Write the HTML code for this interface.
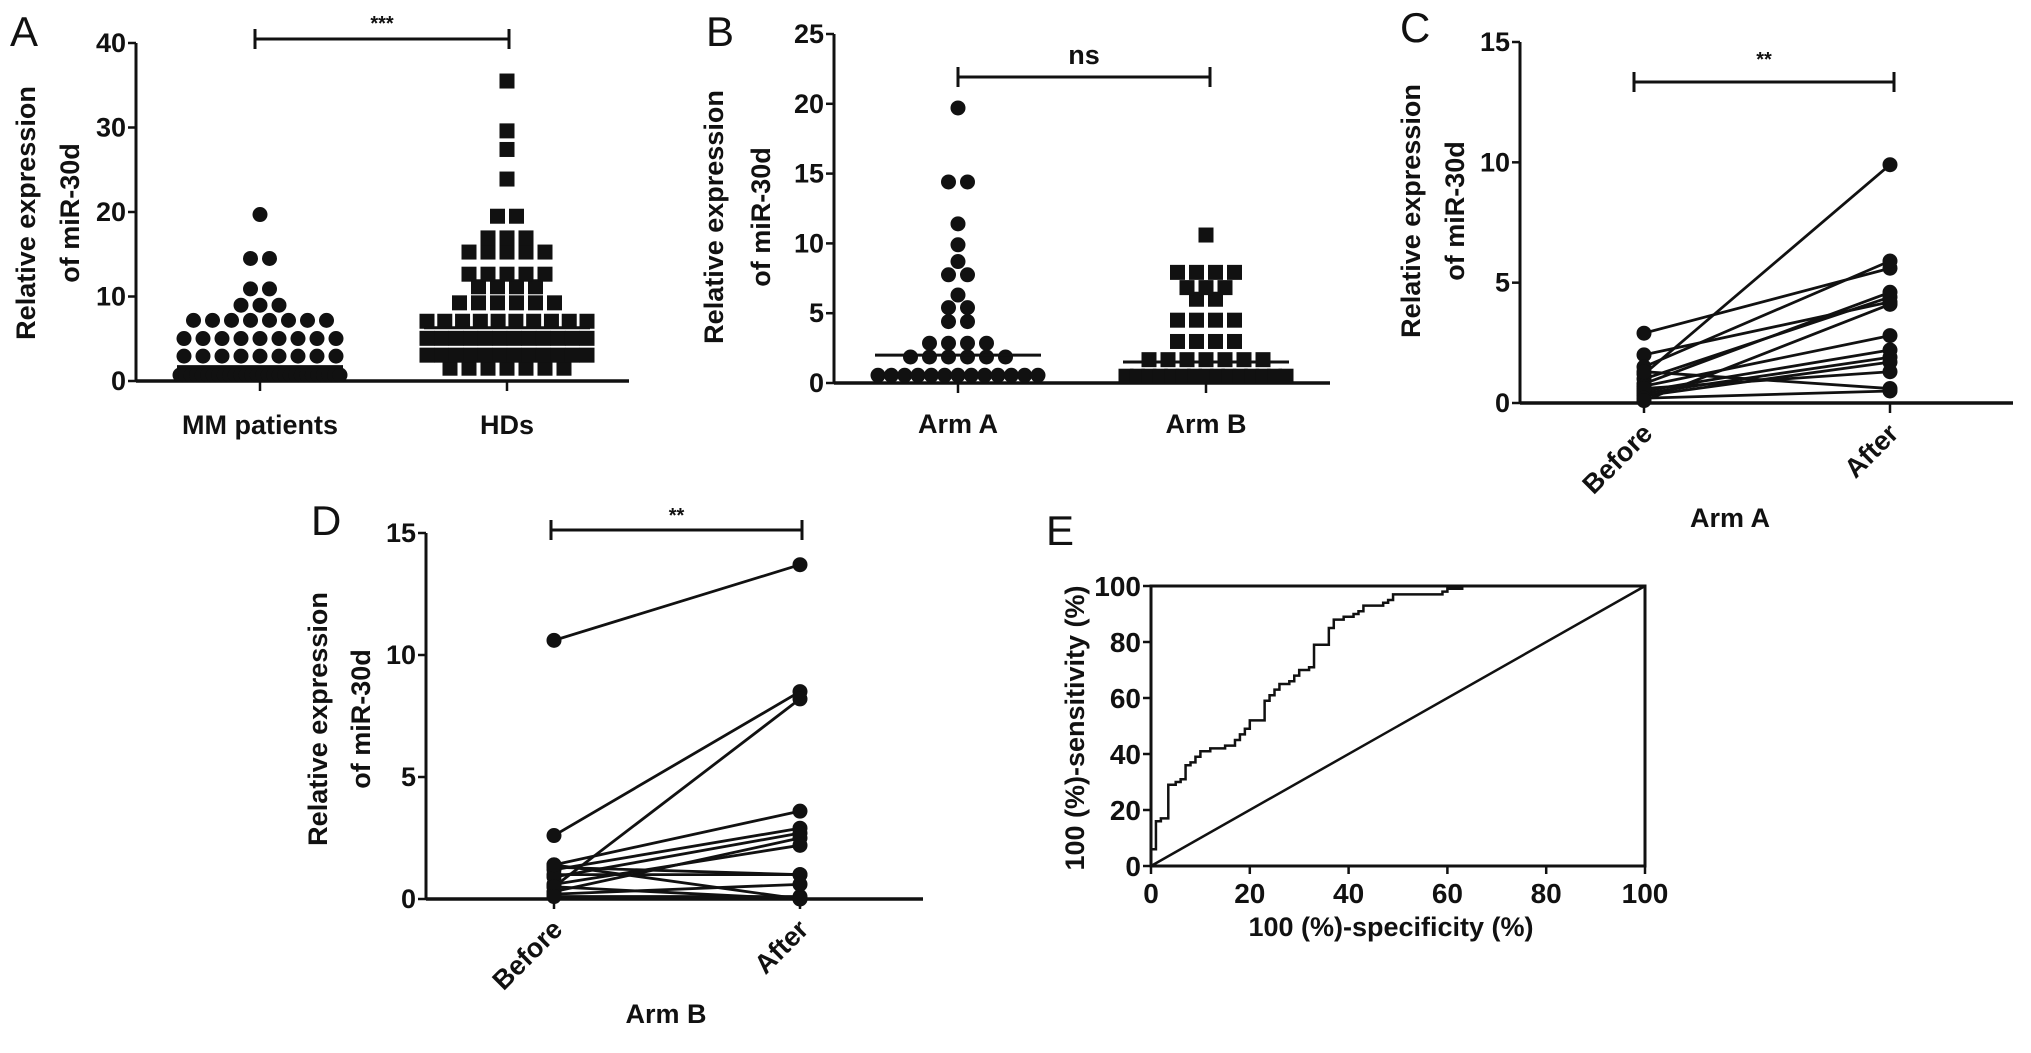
<!DOCTYPE html>
<html><head><meta charset="utf-8"><style>
html,body{margin:0;padding:0;background:#fff;}
svg{display:block;font-family:"Liberation Sans",Arial,sans-serif;}
</style></head><body>
<svg id="fig" width="2031" height="1053" viewBox="0 0 2031 1053" xmlns="http://www.w3.org/2000/svg"></svg>
<script>
// ---- data ----
const catsA = ["MM patients","HDs"];
const mmValues = [19.7,14.7,14.3,11.3,10.5,9.9,8.6,8.4,7.8,7.7,7.6,7.5,7.0,6.9,6.6,6.3,6.0,6.0,5.6,5.2,4.8,4.6,4.6,4.2,4.2,3.8,3.4,3.2,3.0,3.0,2.8,2.6,2.5,2.2,2.0,1.9,1.8,1.6,1.4,1.3,1.2,1.1,1.0,1.0,0.9,0.8,0.7,0.7,0.6,0.5,0.5,0.4,0.4,0.3,0.3,0.2,0.2,0.1,0.1,0.1,0.0,0.0,0.0,0.0];
const hdValues = [35.5,29.6,27.4,23.9,20.0,19.0,17.5,17.0,16.3,16.0,15.7,15.5,14.8,14.3,13.4,12.8,12.5,12.3,12.2,11.8,11.5,11.0,10.3,10.0,9.7,9.5,9.0,8.8,8.5,8.0,7.8,7.5,7.2,7.0,6.8,6.5,6.3,6.0,5.8,5.5,5.3,5.0,4.8,4.5,4.3,4.0,3.8,3.5,3.3,3.0,2.8,2.5,2.3,2.0,1.8,1.5,1.2,0.8,3.2,4.6,5.6,6.2,2.6,3.6,1.9,4.1,5.1,7.4,2.1,1.4];
const mediansA = [1.7,6.3];
const ticksA = [0,10,20,30,40];
const catsB = ["Arm A","Arm B"];
const armAValues = [19.7,14.6,14.2,11.4,9.9,8.7,8.0,7.5,6.3,5.6,5.2,4.5,4.3,3.1,2.8,2.8,2.7,2.2,2.1,2.0,1.9,1.7,1.3,1.2,1.0,1.0,0.9,0.8,0.5,0.4,0.4,0.3,0.2,0.2,0.2,0.1];
const armBValues = [10.6,8.5,8.0,7.7,7.5,7.1,6.9,6.5,6.0,6.0,4.7,4.7,4.7,3.9,3.4,3.2,2.7,2.6,2.3,1.9,1.7,1.6,1.5,1.4,1.3,1.2,1.1,1.0,0.9,0.7,0.6,0.5,0.4,0.3,0.2,0.2,0.1,0.1,0.0,0.0];
const mediansB = [2.0,1.5];
const ticksB = [0,5,10,15,20,25];
const catsPaired = ["Before","After"];
const cBefore = [2.9,2.0,1.5,1.2,1.0,0.8,0.7,0.5,0.4,0.3,1.3,0.6,0.2,0.1];
const cAfter  = [5.6,4.2,5.9,9.9,4.4,4.6,2.8,2.2,1.9,1.7,0.6,1.3,0.5,4.1];
const dBefore = [10.6,2.6,0.5,1.4,1.2,0.9,0.3,0.6,1.3,1.0,0.2,0.5,0.1,1.4];
const dAfter  = [13.7,8.5,8.2,3.6,2.9,2.7,2.5,2.2,1.0,1.0,0.6,0.0,0.1,0.0];
const ticksPaired = [0,5,10,15];
const rocFpr = [0,0,1,1,2,2,3.5,3.5,5,6,7,7,8,9,10,12,15,17,18,19,20,22,23,23,24,25,26,28,29,30,32,33,33,35,36,36,37,39,41,42,43,45,47,48,49,52,55,59,59,60,62,63,100];
const rocTpr = [0,6,6,16,16,17,17,29,30,31,33,36,37,39,41,42,43,45,47,49,52,52,52,59,61,63,65,66,68,70,71,72,79,79,83,85,88,89,90,91,93,93,94,95,97,97,97,97,98,99,99,100,100];
const ticksE = [0,20,40,60,80,100];

const NS="http://www.w3.org/2000/svg";
const svg=document.getElementById('fig');
function mk(tag,attrs,parent){const e=document.createElementNS(NS,tag);for(const k in attrs)e.setAttribute(k,attrs[k]);(parent||svg).appendChild(e);return e;}
function scaleY(p,v){return p.y0-(v/p.ymax)*(p.y0-p.yTop);}

function axes(p,ticks,name){
  const g=mk('g',{});
  
  
  const yl=mk('line',{x1:p.ax,y1:p.yTop,x2:p.ax,y2:p.y0,stroke:'#111','stroke-width':3},g);
  
  
  const xl=mk('line',{x1:p.ax,y1:p.y0,x2:p.xEnd,y2:p.y0,stroke:'#111','stroke-width':3.5},g);
  
  
  ticks.forEach(t=>{
    const y=scaleY(p,t);
    mk('line',{x1:p.ax-8,y1:y,x2:p.ax,y2:y,stroke:'#111','stroke-width':2.5},g);
    const tx=mk('text',{x:p.ax-10,y:y+9,'text-anchor':'end','font-size':27,'font-weight':'bold',fill:'#111'},g);
    tx.textContent=t;
    
    
  });
  p.cats.forEach(cx=>{mk('line',{x1:cx,y1:p.y0,x2:cx,y2:p.y0+10,stroke:'#111','stroke-width':2.5},g);});
}
function ytitle(cx1,cx2,cy,name){
  const l1=mk('text',{x:0,y:0,transform:`translate(${cx1+10},${cy}) rotate(-90)`,'text-anchor':'middle','font-size':27,'font-weight':'bold',fill:'#111'});
  l1.textContent='Relative expression';
  
  
  const l2=mk('text',{x:0,y:0,transform:`translate(${cx2+10},${cy}) rotate(-90)`,'text-anchor':'middle','font-size':27,'font-weight':'bold',fill:'#111'});
  l2.textContent='of miR-30d';
  
  
}
function letter(t,x,y){
  const e=mk('text',{x:x,y:y,'font-size':42,fill:'#111'});
  e.textContent=t;
  
  
}
function bracket(x1,x2,y,label,ly,name,fs){
  const g=mk('g',{});
  
  
  mk('line',{x1:x1,y1:y,x2:x2,y2:y,stroke:'#111','stroke-width':3},g);
  mk('line',{x1:x1,y1:y-10,x2:x1,y2:y+10,stroke:'#111','stroke-width':3},g);
  mk('line',{x1:x2,y1:y-10,x2:x2,y2:y+10,stroke:'#111','stroke-width':3},g);
  const t=mk('text',{x:(x1+x2)/2,y:ly,'text-anchor':'middle','font-size':fs,'font-weight':'bold',fill:'#111'},g);
  t.textContent=label;
}
function catLabel(t,x,y,name){
  const e=mk('text',{x:x,y:y,'text-anchor':'middle','font-size':27,'font-weight':'bold',fill:'#111'});
  e.textContent=t;
  
  
}
function swarm(p,vals,cx,shape,name){
  const size=19, rowH=17, maxHalf=80;
  const bins={};
  vals.forEach(v=>{const b=Math.floor((p.y0-scaleY(p,v))/rowH);(bins[b]=bins[b]||[]).push(v);});
  Object.keys(bins).forEach(b=>{
    const arr=bins[b];
    const n=arr.length;
    const sp=n>1?Math.min(size,2*maxHalf/(n-1)):size;
    const avg=arr.reduce((s,v)=>s+v,0)/n;
    const yRow=Math.min(scaleY(p,avg),p.y0-5);
    arr.forEach((v,i)=>{
      const x=cx+(i-(n-1)/2)*sp;
      let m;
      if(shape==='circle') m=mk('circle',{cx:x,cy:yRow,r:7.5,fill:'#111'});
      else m=mk('rect',{x:x-7.5,y:yRow-7.5,width:15,height:15,fill:'#111'});
      
      
    });
  });
}
function median(p,v,cx,half,name){
  const y=scaleY(p,v);
  const m=mk('line',{x1:cx-half,y1:y,x2:cx+half,y2:y,stroke:'#111','stroke-width':3});
  
  
}

// ---- Panel A ----
const pA={ax:136,yTop:43,y0:381,xEnd:629,ymax:40,cats:[260,507]};
letter('A',10,46);
axes(pA,ticksA,'panel-a');
ytitle(25,69,213,'panel-a');
swarm(pA,mmValues,pA.cats[0],'circle','mm-point');
swarm(pA,hdValues,pA.cats[1],'square','hd-point');
median(pA,mediansA[0],pA.cats[0],83,'mm-median');
median(pA,mediansA[1],pA.cats[1],83,'hd-median');
bracket(255,509,39,'***',30,'panel-a-significance',20);
catsA.forEach((c,i)=>catLabel(c,pA.cats[i],434,'panel-a-category-label'));

// ---- Panel B ----
const pB={ax:834,yTop:34,y0:383,xEnd:1330,ymax:25,cats:[958,1206]};
letter('B',706,46);
axes(pB,ticksB,'panel-b');
ytitle(713,760,217,'panel-b');
swarm(pB,armAValues,pB.cats[0],'circle','arm-a-point');
swarm(pB,armBValues,pB.cats[1],'square','arm-b-point');
median(pB,mediansB[0],pB.cats[0],83,'arm-a-median');
median(pB,mediansB[1],pB.cats[1],83,'arm-b-median');
bracket(958,1210,77,'ns',64,'panel-b-significance',27);
catsB.forEach((c,i)=>catLabel(c,pB.cats[i],433,'panel-b-category-label'));

// ---- paired panels ----
function paired(p,before,after,name,arm,titleX){
  axes(p,ticksPaired,name);
  before.forEach((b,i)=>{
    const l=mk('line',{x1:p.cats[0],y1:scaleY(p,b),x2:p.cats[1],y2:scaleY(p,after[i]),stroke:'#111','stroke-width':2.8});
    
    
  });
  before.forEach((b,i)=>{
    const c1=mk('circle',{cx:p.cats[0],cy:scaleY(p,b),r:7.5,fill:'#111'});
    
    
    const c2=mk('circle',{cx:p.cats[1],cy:scaleY(p,after[i]),r:7.5,fill:'#111'});
    
    
  });
  catsPaired.forEach((c,i)=>{
    const x=p.cats[i]+10,y=p.y0+32;
    const t=mk('text',{x:0,y:0,transform:`translate(${x},${y}) rotate(-45)`,'text-anchor':'end','font-size':27,'font-weight':'bold',fill:'#111'});
    t.textContent=c;
    
    
  });
  const at=mk('text',{x:titleX,y:p.y0+124,'text-anchor':'middle','font-size':27,'font-weight':'bold',fill:'#111'});
  at.textContent=arm;
  
  
}
const pC={ax:1520,yTop:42,y0:403,xEnd:2013,ymax:15,cats:[1644,1890]};
letter('C',1400,42);
ytitle(1410,1454,211,'panel-c');
bracket(1634,1894,82,'**',66,'panel-c-significance',20);
paired(pC,cBefore,cAfter,'panel-c','Arm A',1730);

const pD={ax:426,yTop:533,y0:899,xEnd:923,ymax:15,cats:[554,800]};
letter('D',311,535);
ytitle(317,360,719,'panel-d');
bracket(551,802,530,'**',522,'panel-d-significance',20);
paired(pD,dBefore,dAfter,'panel-d','Arm B',666);

// ---- Panel E (ROC) ----
const pE={x0:1151,x1:1645,y0:866,y1:586};
function ex(v){return pE.x0+v/100*(pE.x1-pE.x0);}
function ey(v){return pE.y0-v/100*(pE.y0-pE.y1);}
letter('E',1046,545);
const box=mk('rect',{x:pE.x0,y:pE.y1,width:pE.x1-pE.x0,height:pE.y0-pE.y1,fill:'none',stroke:'#111','stroke-width':3});


ticksE.forEach(t=>{
  mk('line',{x1:ex(t),y1:pE.y0,x2:ex(t),y2:pE.y0+8,stroke:'#111','stroke-width':2.5});
  const tx=mk('text',{x:ex(t),y:pE.y0+37,'text-anchor':'middle','font-size':28,'font-weight':'bold',fill:'#111'});
  tx.textContent=t;
  
  
  mk('line',{x1:pE.x0-8,y1:ey(t),x2:pE.x0,y2:ey(t),stroke:'#111','stroke-width':2.5});
  const ty=mk('text',{x:pE.x0-10,y:ey(t)+10,'text-anchor':'end','font-size':28,'font-weight':'bold',fill:'#111'});
  ty.textContent=t;
  
  
});
const diag=mk('line',{x1:ex(0),y1:ey(0),x2:ex(100),y2:ey(100),stroke:'#111','stroke-width':2.5});


let d=`M${ex(rocFpr[0])},${ey(rocTpr[0])}`;
for(let i=1;i<rocFpr.length;i++){d+=` H${ex(rocFpr[i])} V${ey(rocTpr[i])}`;}
const roc=mk('path',{d:d,fill:'none',stroke:'#111','stroke-width':2.5});


const ext=mk('text',{x:1391,y:936,'text-anchor':'middle','font-size':27,'font-weight':'bold',fill:'#111'});
ext.textContent='100 (%)-specificity (%)';


const eyt=mk('text',{x:0,y:0,transform:'translate(1084,728) rotate(-90)','text-anchor':'middle','font-size':27,'font-weight':'bold',fill:'#111'});
eyt.textContent='100 (%)-sensitivity (%)';


</script>
</body></html>
